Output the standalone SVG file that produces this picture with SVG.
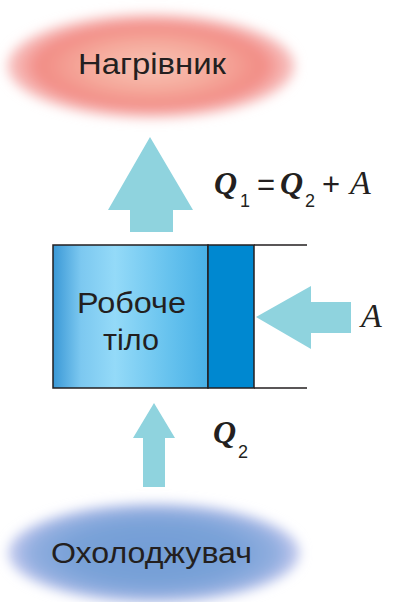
<svg xmlns="http://www.w3.org/2000/svg" width="396" height="602" viewBox="0 0 396 602">
<defs>
<style>
.lbl{font-family:"Liberation Sans",Arial,sans-serif;font-size:30px;fill:#231f20}
.q{font-family:"Liberation Serif","Times New Roman",serif;font-style:italic;font-weight:bold;font-size:32px;fill:#231f20}
.a{font-family:"Liberation Serif","Times New Roman",serif;font-style:italic;font-size:34px;fill:#231f20}
.sub{font-family:"Liberation Sans",Arial,sans-serif;font-size:18px;fill:#231f20}
.op{font-family:"Liberation Sans",Arial,sans-serif;font-size:31px;fill:#231f20}
.arrow{fill:#8fd3de}
.wall{stroke:#231f20;stroke-width:1.5;fill:none}
</style>
<filter id="blur" x="-20%" y="-30%" width="140%" height="160%"><feGaussianBlur stdDeviation="6"/></filter>
<radialGradient id="hot" cx="0.5" cy="0.5" r="0.5">
<stop offset="0" stop-color="#f7c2b4"/>
<stop offset="0.45" stop-color="#f5aa9c"/>
<stop offset="0.78" stop-color="#f28c85"/>
<stop offset="1" stop-color="#f8c8c8"/>
</radialGradient>
<radialGradient id="cold" cx="0.5" cy="0.5" r="0.5">
<stop offset="0" stop-color="#729dd6"/>
<stop offset="0.6" stop-color="#7aa2d8"/>
<stop offset="0.85" stop-color="#93afe0"/>
<stop offset="1" stop-color="#c8ccef"/>
</radialGradient>
<linearGradient id="body" x1="0" y1="0" x2="1" y2="0">
<stop offset="0" stop-color="#3a98d6"/>
<stop offset="0.18" stop-color="#7cc8f0"/>
<stop offset="0.4" stop-color="#94daf8"/>
<stop offset="0.75" stop-color="#66c2ee"/>
<stop offset="1" stop-color="#48b0e6"/>
</linearGradient>
</defs>
<g id="heater">
<ellipse cx="151" cy="66" rx="144" ry="52" fill="url(#hot)" filter="url(#blur)"/>
<text class="lbl" x="152" y="74" text-anchor="middle" textLength="148" lengthAdjust="spacingAndGlyphs">Нагрівник</text>
</g>
<g id="cooler">
<ellipse cx="154" cy="553" rx="146" ry="50" fill="url(#cold)" filter="url(#blur)"/>
<text class="lbl" x="151.5" y="563" text-anchor="middle" textLength="201" lengthAdjust="spacingAndGlyphs">Охолоджувач</text>
</g>
<g id="working-body">
<rect x="53" y="245" width="155" height="143" fill="url(#body)" stroke="#231f20" stroke-width="1.5"/>
<rect x="208" y="245" width="46" height="143" fill="#0088d0" stroke="#231f20" stroke-width="1.5"/>
<path class="wall" d="M254 245H307M254 388H307"/>
<text class="lbl" x="131.5" y="313" text-anchor="middle" textLength="109" lengthAdjust="spacingAndGlyphs">Робоче</text>
<text class="lbl" x="131" y="350" text-anchor="middle" textLength="56" lengthAdjust="spacingAndGlyphs">тіло</text>
</g>
<g id="connectors">
<polygon class="arrow" points="150,137 193,210 173,210 173,232 130,232 130,210 108,210"/>
<polygon class="arrow" points="256,317 311,286 311,302 351,302 351,333 311,333 311,349"/>
<polygon class="arrow" points="154,403 175,438 165,438 165,487 143,487 143,438 133,438"/>
</g>
<g id="labels">
<text class="q" x="214" y="194">Q</text>
<text class="sub" x="240" y="207">1</text>
<text class="op" x="257" y="195">=</text>
<text class="q" x="280" y="194">Q</text>
<text class="sub" x="305" y="207">2</text>
<text class="op" x="322" y="195">+</text>
<text class="a" x="350" y="194">A</text>
<text class="a" x="361" y="327">A</text>
<text class="q" x="213" y="443">Q</text>
<text class="sub" x="238" y="458">2</text>
</g>
</svg>
